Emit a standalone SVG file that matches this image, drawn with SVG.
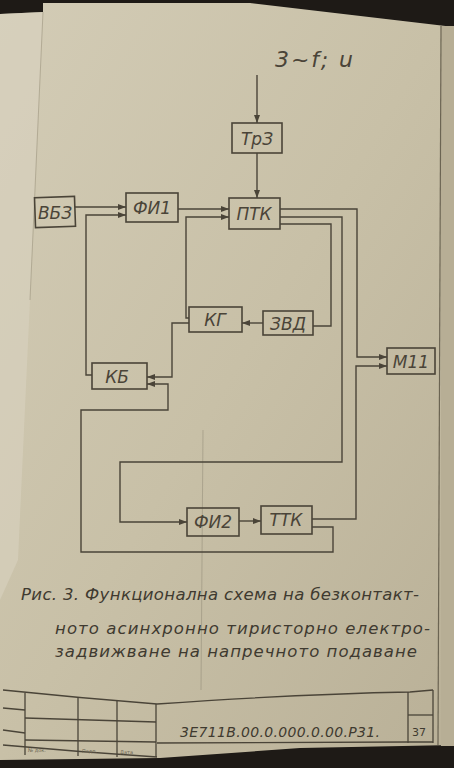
<svg xmlns="http://www.w3.org/2000/svg" width="454" height="768" viewBox="0 0 454 768">
<defs>
<linearGradient id="paper" x1="0" y1="0" x2="1" y2="1">
<stop offset="0" stop-color="#d3ccb6"/>
<stop offset="0.5" stop-color="#c8c0a7"/>
<stop offset="1" stop-color="#b9b097"/>
</linearGradient>
<marker id="arr" viewBox="0 0 8 6" refX="8" refY="3" markerWidth="8" markerHeight="6" markerUnits="userSpaceOnUse" orient="auto">
<path d="M0,0 L8,3 L0,6 Z" fill="#4a4438"/>
</marker>
<style>
.box{fill:none;stroke:#4a4438;stroke-width:1.6}
.lbl{font-family:"DejaVu Sans",sans-serif;font-style:italic;font-size:17px;fill:#4a4438;text-anchor:middle}
.wire{fill:none;stroke:#4a4438;stroke-width:1.4}
.cap{font-family:"DejaVu Sans",sans-serif;font-style:italic;font-size:16.5px;fill:#3f3a30}
.frame{fill:none;stroke:#4a4438;stroke-width:1.3}
</style>
</defs>
<rect x="0" y="0" width="454" height="768" fill="#1e1a16"/>
<path d="M0,14 L43,12 L43,3 L250,3 L454,27 L454,745 L300,748 L160,758 L0,760 Z" fill="url(#paper)"/>
<path d="M0,14 L43,12 L30,300 L18,560 L0,600 Z" fill="#d8d2bf" opacity="0.6"/>
<line x1="43" y1="12" x2="30" y2="300" stroke="#9d957f" stroke-width="1" opacity="0.6"/>
<rect x="441" y="26" width="13" height="720" fill="#b7ae95"/>
<line x1="441" y1="26" x2="438" y2="745" stroke="#6b6452" stroke-width="1.2"/>
<line x1="203" y1="430" x2="201" y2="690" stroke="#8d8673" stroke-width="0.8" opacity="0.6"/>

<text x="275" y="67" font-family="DejaVu Sans, sans-serif" font-style="italic" font-size="22" fill="#4a4438" textLength="78" lengthAdjust="spacing">3~f; u</text>

<g id="connectors">
<path class="wire" d="M257,75 V123" marker-end="url(#arr)"/>
<path class="wire" d="M257,153 V198" marker-end="url(#arr)"/>
<path class="wire" d="M75,207 H126" marker-end="url(#arr)"/>
<path class="wire" d="M178,209 H229" marker-end="url(#arr)"/>
<path class="wire" d="M92,375 H86 V215 H126" marker-end="url(#arr)"/>
<path class="wire" d="M189,318 H186 V217 H229" marker-end="url(#arr)"/>
<path class="wire" d="M263,323 H242" marker-end="url(#arr)"/>
<path class="wire" d="M280,224 H331 V326 H313"/>
<path class="wire" d="M280,209 H357 V357 H387" marker-end="url(#arr)"/>
<path class="wire" d="M280,217 H342 V462 H120 V522 H187" marker-end="url(#arr)"/>
<path class="wire" d="M239,521 H261" marker-end="url(#arr)"/>
<path class="wire" d="M312,519 H356 V366 H387" marker-end="url(#arr)"/>
<path class="wire" d="M312,527 H333 V552 H81 V410 H168 V384 H147" marker-end="url(#arr)"/>
<path class="wire" d="M189,323 H172 V377 H147" marker-end="url(#arr)"/>
</g>

<g id="TrZ"><rect class="box" x="232" y="123" width="50" height="30"/><text class="lbl" x="257" y="145">ТрЗ</text></g>
<g id="VBZ"><rect class="box" x="35" y="197" width="40" height="30" transform="rotate(-2 55 212)"/><text class="lbl" x="55" y="219">ВБЗ</text></g>
<g id="FI1"><rect class="box" x="126" y="193" width="52" height="29"/><text class="lbl" x="152" y="214">ФИ1</text></g>
<g id="PTK"><rect class="box" x="229" y="198" width="51" height="31"/><text class="lbl" x="254" y="220">ПТК</text></g>
<g id="KG"><rect class="box" x="189" y="307" width="53" height="25"/><text class="lbl" x="215" y="326">КГ</text></g>
<g id="ZVD"><rect class="box" x="263" y="311" width="50" height="24"/><text class="lbl" x="288" y="330">ЗВД</text></g>
<g id="KB"><rect class="box" x="92" y="363" width="55" height="26"/><text class="lbl" x="117" y="383">КБ</text></g>
<g id="M11"><rect class="box" x="387" y="348" width="48" height="26"/><text class="lbl" x="411" y="368">М11</text></g>
<g id="FI2"><rect class="box" x="187" y="508" width="52" height="28"/><text class="lbl" x="213" y="528">ФИ2</text></g>
<g id="TTK"><rect class="box" x="261" y="506" width="51" height="28"/><text class="lbl" x="286" y="526">ТТК</text></g>

<text class="cap" x="21" y="600" textLength="398" lengthAdjust="spacing">Рис. 3. Функционална схема на безконтакт-</text>
<text class="cap" x="55" y="634" textLength="375" lengthAdjust="spacing">ното асинхронно тиристорно електро-</text>
<text class="cap" x="55" y="657" textLength="362" lengthAdjust="spacing">задвижване на напречното подаване</text>

<g id="titleblock">
<path class="frame" d="M3,690 Q80,698 157,704 Q300,694 410,692 L433,690"/>
<path class="frame" d="M3,745 Q80,752 157,757"/>
<path class="frame" d="M157,743 L408,742 L433,742"/>
<line class="frame" x1="25" y1="693" x2="25" y2="755"/>
<line class="frame" x1="78" y1="697" x2="78" y2="756"/>
<line class="frame" x1="117" y1="701" x2="117" y2="757"/>
<line class="frame" x1="156" y1="704" x2="156" y2="757"/>
<line class="frame" x1="408" y1="692" x2="408" y2="743"/>
<line class="frame" x1="433" y1="690" x2="433" y2="743"/>
<line class="frame" x1="408" y1="715" x2="433" y2="715"/>
<path class="frame" d="M3,708 L25,710"/>
<path class="frame" d="M3,730 L25,733"/>
<path class="frame" d="M25,718 L156,722"/>
<path class="frame" d="M25,740 L156,742"/>
<text x="180" y="737" font-family="DejaVu Sans, sans-serif" font-style="italic" font-size="14" fill="#3f3a30" textLength="200" lengthAdjust="spacing">3Е711В.00.0.000.0.00.Р31.</text>
<text x="412" y="736" font-family="DejaVu Sans, sans-serif" font-size="11" fill="#3f3a30">37</text>
<text x="28" y="752" font-family="DejaVu Sans, sans-serif" font-size="5" fill="#6e6754">№ док.</text>
<text x="82" y="753" font-family="DejaVu Sans, sans-serif" font-size="5" fill="#6e6754">Подп.</text>
<text x="120" y="754" font-family="DejaVu Sans, sans-serif" font-size="5" fill="#6e6754">Дата</text>
</g>
</svg>
